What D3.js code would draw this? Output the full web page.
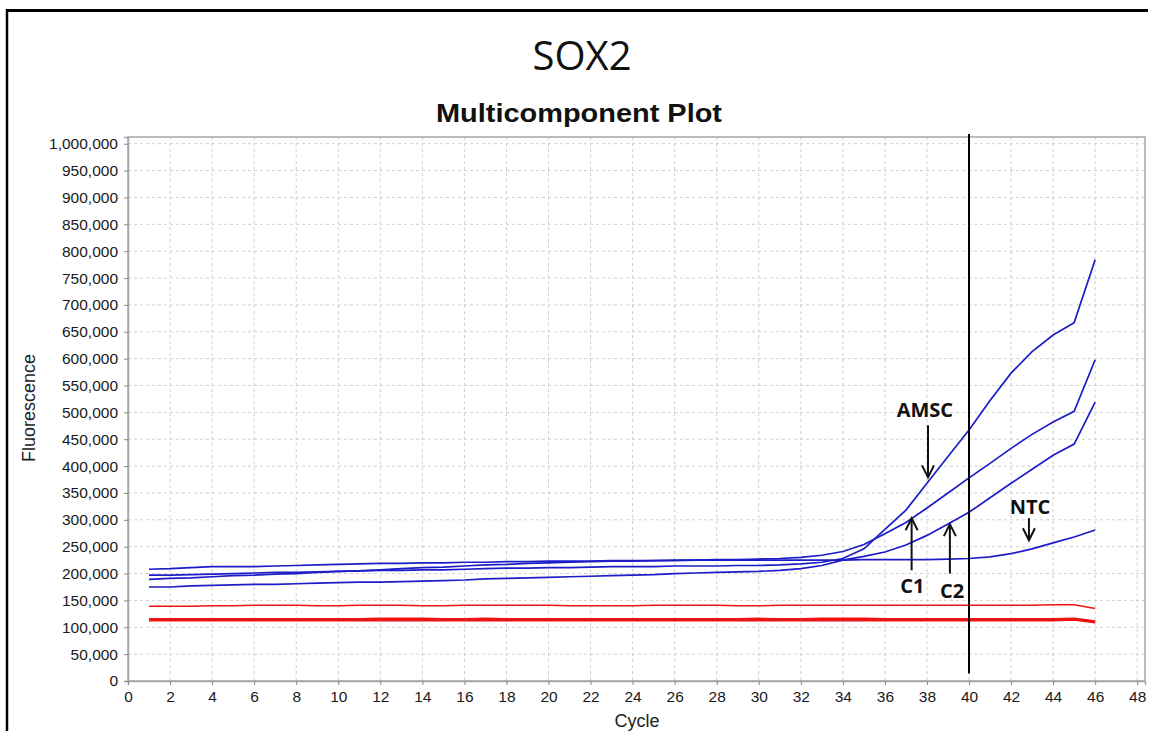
<!DOCTYPE html>
<html>
<head>
<meta charset="utf-8">
<script src="https://cdn.jsdelivr.net/npm/d3@7/dist/d3.min.js"></script>
<style>
  body { margin: 0; background: #fff; }
  svg { display: block; }
</style>
</head>
<body>
<div id="chart"></div>
<script>
// cycles and fluorescence values (thousands)
var cycles = [1,2,3,4,5,6,7,8,9,10,11,12,13,14,15,16,17,18,19,20,21,22,23,
  24,25,26,27,28,29,30,31,32,33,34,35,36,37,38,39,40,41,42,43,44,45,46];

var amsc = [197,197,198,199,200,201,202,202,203,204,205,206,206,207,207,208,209,210,210,211,211,212,213,
  213,213,214,214,214,215,215,216,218,221,228,246,282,318,368,418,467,522,573,613,644,667,784];
var c1 = [208,209,211,213,213,213,214,215,216,217,218,219,219,220,220,221,221,222,222,223,223,223,224,
  224,224,225,225,226,226,227,228,230,234,241,254,274,295,322,350,378,405,433,459,482,502,598];
var c2 = [175,175,177,178,179,180,180,181,182,183,184,184,185,186,187,188,190,191,192,193,194,195,196,
  197,198,200,201,202,203,204,206,209,215,225,232,240,253,271,292,314,341,368,394,420,441,519];
var ntc = [189,191,192,194,196,197,199,200,202,204,205,207,209,211,212,214,216,217,219,220,221,222,223,
  223,224,224,225,225,225,225,225,225,225,225,226,226,226,226,227,228,231,237,246,257,268,281];

var redThin = [139,139,139,140,140,141,141,141,140,140,141,141,141,140,140,141,141,141,141,141,140,140,140,
  140,141,141,141,141,140,140,141,141,141,141,141,141,141,141,141,141,141,141,141,142,142,135];
var redB = [115,115,115,115,115,115,115,115,115,115,115,116,116,116,115,115,116,115,115,115,115,115,115,
  115,115,115,115,115,115,116,115,115,116,116,116,115,115,115,115,115,115,115,115,115,116,111];
var redC = [113,113,113,113,113,113,113,113,113,113,113,113,113,113,113,113,113,113,113,113,113,113,113,
  113,113,113,113,113,113,113,113,113,113,113,113,113,113,113,113,113,113,113,113,113,114,109];
var redD = [114,114,114,114,114,114,114,115,114,114,114,114,114,114,114,114,114,114,114,114,114,114,114,
  114,114,114,114,114,114,114,114,114,114,114,114,114,114,114,114,114,114,114,114,114,115,110];

var xTicks = [0,2,4,6,8,10,12,14,16,18,20,22,24,26,28,30,32,34,36,38,40,42,44,46,48];
var yTicks = [0,50000,100000,150000,200000,250000,300000,350000,400000,450000,500000,
  550000,600000,650000,700000,750000,800000,850000,900000,950000,1000000];

var thresholdCycle = 40;

// annotations: label position and arrow (from -> tip), in cycle / fluorescence units
var notes = [
  {text: "AMSC", lx: 37.9, ly: 491000, ax: 38.05, from: 476000, to: 379000},
  {text: "C1",   lx: 37.3, ly: 163000, ax: 37.27, from: 206000, to: 303000},
  {text: "C2",   lx: 39.2, ly: 154000, ax: 39.09, from: 200000, to: 292000},
  {text: "NTC",  lx: 42.9, ly: 310000, ax: 42.85, from: 303000, to: 262000}
];

(function() {
  "use strict";

  var blue = "#1c1cc8", red = "#ee1414";

  var W = 1153, H = 731,
      pLeft = 128, pRight = 1145, pTop = 137, pBottom = 681;

  var svg = d3.select("#chart").append("svg")
    .attr("width", W)
    .attr("height", H);

  svg.append("rect").attr("width", W).attr("height", H).attr("fill", "#fff");

  // outer frame (top and left edges visible)
  svg.append("line").attr("x1", 7).attr("x2", 1148).attr("y1", 10.5).attr("y2", 10.5)
    .attr("stroke", "#000").attr("stroke-width", 3);
  svg.append("line").attr("x1", 7).attr("x2", 7).attr("y1", 9).attr("y2", H)
    .attr("stroke", "#000").attr("stroke-width", 2.5);

  var x = d3.scaleLinear().domain([0, 48.37]).range([pLeft, pRight]);
  var y = d3.scaleLinear().domain([0, 1012500]).range([pBottom, pTop]);

  // grid
  var grid = svg.append("g").attr("class", "grid");
  grid.selectAll("line.v").data(xTicks.filter(function(d) { return d > 0; }))
    .enter().append("line").attr("class", "v")
    .attr("x1", function(d) { return x(d); })
    .attr("x2", function(d) { return x(d); })
    .attr("y1", pTop).attr("y2", pBottom)
    .attr("stroke", "#cfcfcf").attr("stroke-dasharray", "3,3");
  grid.selectAll("line.h").data(yTicks.filter(function(d) { return d > 0; }))
    .enter().append("line").attr("class", "h")
    .attr("x1", pLeft).attr("x2", pRight)
    .attr("y1", function(d) { return y(d); })
    .attr("y2", function(d) { return y(d); })
    .attr("stroke", "#cfcfcf").attr("stroke-dasharray", "3,3");

  // plot frame
  svg.append("rect")
    .attr("x", pLeft).attr("y", pTop)
    .attr("width", pRight - pLeft).attr("height", pBottom - pTop)
    .attr("fill", "none").attr("stroke", "#a6a6a6").attr("stroke-width", 1.5);

  // axes
  var yAxis = svg.append("g")
    .attr("transform", "translate(" + pLeft + ",0)")
    .call(d3.axisLeft(y).tickValues(yTicks).tickSize(4).tickPadding(6)
      .tickFormat(d3.format(",")));
  var xAxis = svg.append("g")
    .attr("transform", "translate(0," + pBottom + ")")
    .call(d3.axisBottom(x).tickValues(xTicks).tickSize(4).tickPadding(6)
      .tickFormat(d3.format("d")));

  [yAxis, xAxis].forEach(function(a) {
    a.select(".domain").attr("stroke", "#a6a6a6").attr("stroke-width", 1.5);
    a.selectAll(".tick line").attr("stroke", "#8a8a8a");
    a.selectAll(".tick text")
      .attr("fill", "#1a1a1a")
      .style("font-family", "'Liberation Sans', Arial, sans-serif")
      .style("font-size", "15.5px");
  });

  // series
  var line = d3.line()
    .x(function(d, i) { return x(cycles[i]); })
    .y(function(d) { return y(d * 1000); });

  var reds = [redThin, redB, redC, redD];
  svg.append("g").selectAll("path").data(reds).enter().append("path")
    .attr("d", line)
    .attr("fill", "none")
    .attr("stroke", red)
    .attr("stroke-width", function(d, i) { return i === 0 ? 1.5 : 2.2; });

  var blues = [ntc, c2, c1, amsc];
  svg.append("g").selectAll("path").data(blues).enter().append("path")
    .attr("d", line)
    .attr("fill", "none")
    .attr("stroke", blue)
    .attr("stroke-width", 1.7);

  // threshold marker
  svg.append("line")
    .attr("x1", x(thresholdCycle)).attr("x2", x(thresholdCycle))
    .attr("y1", pTop - 3).attr("y2", y(14000))
    .attr("stroke", "#000").attr("stroke-width", 2);

  // annotations
  var ann = svg.append("g").selectAll("g").data(notes).enter().append("g");
  ann.append("text")
    .attr("x", function(d) { return x(d.lx); })
    .attr("y", function(d) { return y(d.ly); })
    .attr("text-anchor", "middle")
    .style("font-family", "'Open Sans', 'Noto Sans', sans-serif")
    .style("font-weight", "bold")
    .style("font-size", "20px")
    .attr("fill", "#111")
    .text(function(d) { return d.text; });
  ann.append("line")
    .attr("x1", function(d) { return x(d.ax); })
    .attr("x2", function(d) { return x(d.ax); })
    .attr("y1", function(d) { return y(d.from); })
    .attr("y2", function(d) { return y(d.to); })
    .attr("stroke", "#111").attr("stroke-width", 2);
  ann.append("path")
    .attr("d", function(d) {
      var tx = x(d.ax), ty = y(d.to), s = y(d.to) > y(d.from) ? -1 : 1;
      return "M" + (tx - 6) + "," + (ty + s * 12) + "L" + tx + "," + ty + "L" + (tx + 6) + "," + (ty + s * 12);
    })
    .attr("fill", "none").attr("stroke", "#111").attr("stroke-width", 2);

  // titles
  svg.append("text")
    .attr("x", 582).attr("y", 70)
    .attr("text-anchor", "middle")
    .style("font-family", "'Open Sans', 'Noto Sans', sans-serif")
    .style("font-size", "40px")
    .attr("fill", "#111")
    .text("SOX2");

  svg.append("text")
    .attr("x", 579).attr("y", 122)
    .attr("text-anchor", "middle")
    .attr("textLength", 286).attr("lengthAdjust", "spacingAndGlyphs")
    .style("font-family", "'Liberation Sans', Arial, sans-serif")
    .style("font-weight", "bold")
    .style("font-size", "25.5px")
    .attr("fill", "#111")
    .text("Multicomponent Plot");

  svg.append("text")
    .attr("transform", "translate(35,408) rotate(-90)")
    .attr("text-anchor", "middle")
    .style("font-family", "'Liberation Sans', Arial, sans-serif")
    .style("font-size", "18px")
    .attr("fill", "#222")
    .text("Fluorescence");

  svg.append("text")
    .attr("x", 637).attr("y", 727)
    .attr("text-anchor", "middle")
    .style("font-family", "'Liberation Sans', Arial, sans-serif")
    .style("font-size", "18px")
    .attr("fill", "#222")
    .text("Cycle");
})();
</script>
</body>
</html>
